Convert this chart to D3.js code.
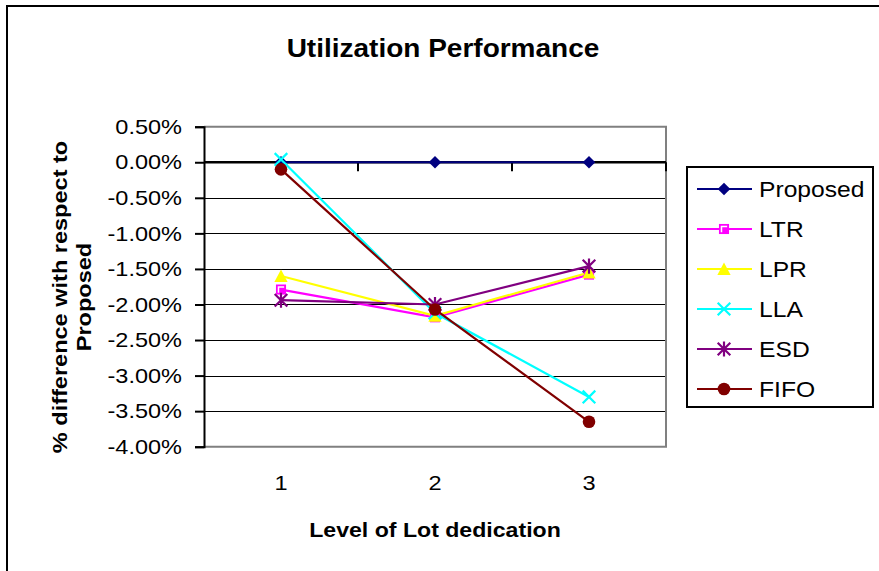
<!DOCTYPE html>
<html>
<head>
<meta charset="utf-8">
<script src="https://cdn.jsdelivr.net/npm/d3@7"></script>
<style>
  html, body { margin: 0; padding: 0; background: #fff; }
  svg { display: block; font-family: "Liberation Sans", Arial, sans-serif; }
</style>
</head>
<body>
<svg id="chart" width="879" height="571"></svg>
<script>
// Level of lot dedication (x categories)
const categories = ["1", "2", "3"];

// % difference with respect to the proposed method
const proposed = [0.0, 0.0, 0.0];
const ltr      = [-0.0179, -0.0218, -0.0158];
const lpr      = [-0.0160, -0.0216, -0.0155];
const lla      = [0.0004, -0.0212, -0.0330];
const esd      = [-0.0194, -0.0200, -0.0146];
const fifo     = [-0.0010, -0.0207, -0.0365];

const yTicks = [0.005, 0, -0.005, -0.01, -0.015, -0.02, -0.025, -0.03, -0.035, -0.04];

const seriesNames = ["Proposed", "LTR", "LPR", "LLA", "ESD", "FIFO"];
const seriesValues = [proposed, ltr, lpr, lla, esd, fifo];
const seriesColors = ["#000080", "#ff00ff", "#ffff00", "#00ffff", "#800080", "#800000"];
const seriesMarkers = ["diamond", "square", "triangle", "cross", "star", "circle"];

const svg = d3.select("#chart");
const W = 879, H = 571;
const plot = { left: 204, right: 666, top: 126.7, bottom: 446.7 };
const WIDE = 1.12; // text is drawn slightly widened

// widen a text (or tspan) node horizontally along its baseline
function widen(sel, f = WIDE) {
  sel.each(function () {
    const L = this.getComputedTextLength();
    this.setAttribute("textLength", (L * f).toFixed(1));
    this.setAttribute("lengthAdjust", "spacingAndGlyphs");
  });
}

// chart frame (only the top and left edges fall inside the view)
svg.append("path")
  .attr("d", `M7,${H + 2} V6 H${W + 2}`)
  .attr("fill", "none").attr("stroke", "#000").attr("stroke-width", 2);

const x = d3.scaleBand().domain(categories).range([plot.left, plot.right]).paddingInner(0).paddingOuter(0);
const xc = d => x(d) + x.bandwidth() / 2;
const y = d3.scaleLinear().domain([-0.04, 0.005]).range([plot.bottom, plot.top]);

// horizontal gridlines
svg.append("g").selectAll("line")
  .data(yTicks.filter(t => t !== 0.005 && t !== -0.04 && t !== 0))
  .join("line")
  .attr("x1", plot.left).attr("x2", plot.right)
  .attr("y1", d => Math.round(y(d)) + 0.5).attr("y2", d => Math.round(y(d)) + 0.5)
  .attr("stroke", "#000").attr("stroke-width", 1);

// plot area border (grey)
svg.append("path")
  .attr("d", `M${plot.left},${plot.top} H${plot.right} V${plot.bottom} H${plot.left}`)
  .attr("fill", "none").attr("stroke", "#808080").attr("stroke-width", 2);

// y axis
const yAxis = d3.axisLeft(y).tickValues(yTicks).tickSize(9).tickPadding(13)
  .tickFormat(d => d3.format(".2%")(d).replace("−", "-"));
const gy = svg.append("g").attr("transform", `translate(${plot.left},0)`).call(yAxis);
gy.select(".domain").attr("stroke", "#000").attr("stroke-width", 2);
gy.selectAll(".tick line").attr("stroke", "#000").attr("stroke-width", 2);
gy.selectAll(".tick text").attr("font-size", 21).attr("fill", "#000")
  .attr("font-family", "Liberation Sans, Arial, sans-serif").call(widen);

// x axis crossing at zero, ticks at category boundaries
const zeroY = y(0);
svg.append("line").attr("x1", plot.left).attr("x2", plot.right)
  .attr("y1", zeroY).attr("y2", zeroY).attr("stroke", "#000").attr("stroke-width", 2.5);
const bounds = categories.map(c => x(c) + x.bandwidth());
svg.append("g").selectAll("line").data(bounds).join("line")
  .attr("x1", d => d).attr("x2", d => d)
  .attr("y1", zeroY).attr("y2", zeroY + 9)
  .attr("stroke", "#000").attr("stroke-width", 2);

// x category labels below the plot
svg.append("g").selectAll("text").data(categories).join("text")
  .attr("x", d => xc(d)).attr("y", 490)
  .attr("text-anchor", "middle").attr("font-size", 21).text(d => d).call(widen);

// markers
function drawMarker(g, type, color, s) {
  if (type === "diamond") {
    g.append("path").attr("d", `M0,${-s} L${s},0 L0,${s} L${-s},0Z`).attr("fill", color);
  } else if (type === "square") {
    g.append("rect").attr("x", -s * 0.8).attr("y", -s * 0.8).attr("width", s * 1.6).attr("height", s * 1.6)
      .attr("fill", color);
    g.append("path").attr("d", `M${-s * 0.4},${s * 0.5} V${-s * 0.4} H${s * 0.5}`)
      .attr("fill", "none").attr("stroke", "#fff").attr("stroke-width", 1.5);
  } else if (type === "triangle") {
    g.append("path").attr("d", `M0,${-s * 1.05} L${s * 1.05},${s * 0.95} L${-s * 1.05},${s * 0.95}Z`).attr("fill", color);
  } else if (type === "cross") {
    g.append("path").attr("d", `M${-s},${-s} L${s},${s} M${-s},${s} L${s},${-s}`)
      .attr("stroke", color).attr("stroke-width", 2.2);
  } else if (type === "star") {
    g.append("path").attr("d", `M${-s},${-s} L${s},${s} M${-s},${s} L${s},${-s} M0,${-s * 1.2} V${s * 1.2}`)
      .attr("stroke", color).attr("stroke-width", 2.2);
  } else if (type === "circle") {
    g.append("circle").attr("r", s).attr("fill", color);
  }
}

const MS = 6.3;
const line = d3.line().x((d, i) => xc(categories[i])).y(d => y(d));
const seriesG = svg.append("g");
seriesValues.forEach((vals, k) => {
  seriesG.append("path").datum(vals).attr("d", line)
    .attr("fill", "none").attr("stroke", seriesColors[k]).attr("stroke-width", 2.2);
});
seriesValues.forEach((vals, k) => {
  vals.forEach((v, i) => {
    const g = seriesG.append("g").attr("transform", `translate(${xc(categories[i])},${y(v)})`);
    drawMarker(g, seriesMarkers[k], seriesColors[k], MS);
  });
});

// legend
const legend = svg.append("g");
legend.append("rect").attr("x", 687).attr("y", 167).attr("width", 186).attr("height", 240)
  .attr("fill", "#fff").attr("stroke", "#000").attr("stroke-width", 2);
seriesNames.forEach((name, k) => {
  const ly = 189 + k * 40;
  legend.append("line").attr("x1", 697).attr("x2", 752).attr("y1", ly).attr("y2", ly)
    .attr("stroke", seriesColors[k]).attr("stroke-width", 2.2);
  const g = legend.append("g").attr("transform", `translate(724,${ly})`);
  drawMarker(g, seriesMarkers[k], seriesColors[k], MS);
  legend.append("text").attr("x", 759).attr("y", ly + 8).attr("font-size", 22).text(name).call(widen);
});

// titles
svg.append("text").attr("x", 443).attr("y", 57).attr("text-anchor", "middle")
  .attr("font-size", 25).attr("font-weight", "bold").text("Utilization Performance").call(widen);

svg.append("text").attr("x", 435).attr("y", 537).attr("text-anchor", "middle")
  .attr("font-size", 21).attr("font-weight", "bold").text("Level of Lot dedication").call(widen, 1.1);

const yt = svg.append("text").attr("transform", "translate(0,297) rotate(-90)")
  .attr("text-anchor", "middle").attr("font-size", 21).attr("font-weight", "bold");
yt.append("tspan").attr("x", 0).attr("y", 67).text("% difference with respect to").call(widen);
yt.append("tspan").attr("x", 0).attr("y", 91).text("Proposed").call(widen);
</script>
</body>
</html>
